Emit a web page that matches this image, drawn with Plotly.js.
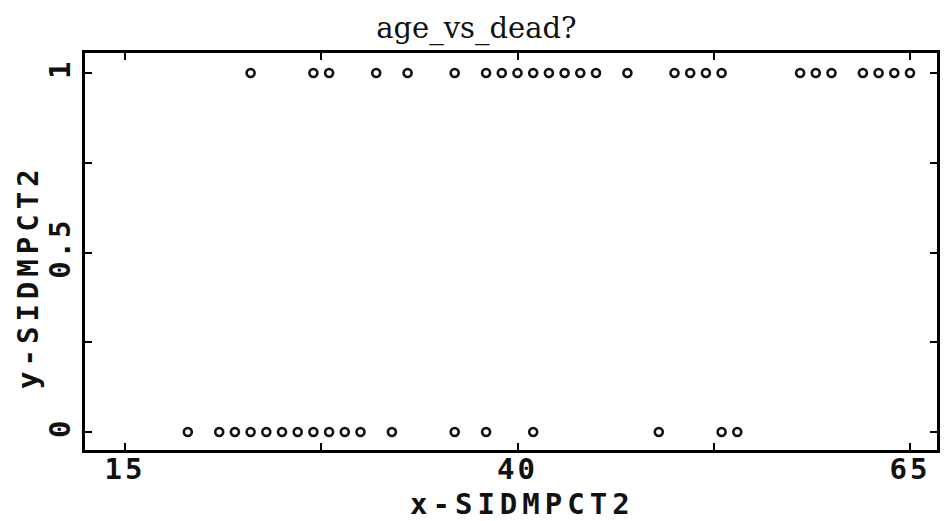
<!DOCTYPE html>
<html>
<head>
<meta charset="utf-8">
<script src="https://cdn.plot.ly/plotly-3.0.1.min.js"></script>
<style>
  html, body { margin: 0; padding: 0; background: #fff; }
  #chart { width: 947px; height: 521px; }
  /* wide plotter-style lettering for axis text */
  .xtick text, .ytick text { letter-spacing: 3px; }
  .annotation-text { letter-spacing: 5px; }
</style>
</head>
<body>
<div id="chart"></div>
<script>
// Ages of the cases that died (outcome 1)
const agesDead = [23, 27, 28, 31, 33, 36, 38, 39, 40, 41, 42, 43, 44, 45, 47,
                  50, 51, 52, 53, 58, 59, 60, 62, 63, 64, 65];
// Ages of the cases that survived (outcome 0)
const agesAlive = [19, 21, 22, 23, 24, 25, 26, 27, 28, 29, 30, 32, 36, 38, 41, 49, 53, 54];

const xTickVals = [15, 27.5, 40, 52.5, 65];
const xTickText = ['15', '', '40', '', '65'];
const yTickVals = [0, 0.25, 0.5, 0.75, 1];
const yTickText = ['0', '', '0.5', '', '1'];

const xs = agesDead.concat(agesAlive);
const ys = agesDead.map(() => 1).concat(agesAlive.map(() => 0));

const monoFont = { family: 'DejaVu Sans Mono, monospace', size: 29, weight: 'bold', color: '#111' };

const trace = {
  type: 'scatter',
  mode: 'markers',
  x: xs,
  y: ys,
  marker: {
    symbol: 'circle-open',
    size: 8,
    color: '#111',
    line: { width: 2.6, color: '#111' }
  },
  hoverinfo: 'x+y'
};

const axisCommon = {
  showline: true,
  linecolor: '#000',
  linewidth: 3,
  mirror: 'ticks',
  ticks: 'inside',
  ticklen: 7,
  tickwidth: 2,
  tickcolor: '#000',
  showgrid: false,
  zeroline: false,
  tickfont: monoFont,
  tickmode: 'array'
};

const layout = {
  width: 947,
  height: 521,
  margin: { l: 85, r: 10, t: 53, b: 71 },
  paper_bgcolor: '#fff',
  plot_bgcolor: '#fff',
  showlegend: false,
  title: {
    text: 'age_vs_dead?',
    font: { family: 'DejaVu Serif, serif', size: 29, color: '#111' },
    xref: 'container', x: 0.503, xanchor: 'center',
    yref: 'container', y: 1 - 28 / 521, yanchor: 'middle'
  },
  xaxis: Object.assign({}, axisCommon, {
    range: [12.452, 66.72],
    tickvals: xTickVals,
    ticktext: xTickText,
    ticklabelstandoff: -9
  }),
  yaxis: Object.assign({}, axisCommon, {
    range: [-0.0501, 1.0557],
    tickvals: yTickVals,
    ticktext: yTickText,
    tickangle: -90,
    ticklabelstandoff: 0
  }),
  annotations: [
    {
      text: 'x-SIDMPCT2',
      xref: 'paper', yref: 'paper',
      x: (522 - 85) / 852, y: (450 - 504) / 397,
      xanchor: 'center', yanchor: 'middle',
      showarrow: false,
      font: monoFont
    },
    {
      text: 'y-SIDMPCT2',
      xref: 'paper', yref: 'paper',
      x: (28 - 85) / 852, y: (450 - 277) / 397,
      xanchor: 'center', yanchor: 'middle',
      textangle: -90,
      showarrow: false,
      font: monoFont
    }
  ]
};

Plotly.newPlot('chart', [trace], layout, { displayModeBar: false, staticPlot: true });
</script>
</body>
</html>
